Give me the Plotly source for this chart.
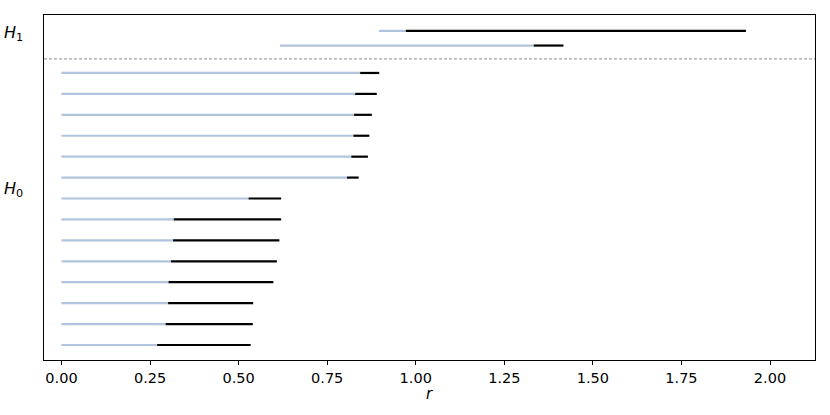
import plotly.graph_objects as go

# barcode values: birth, radius reached so far, death (top bar first)
h0_birth = [0, 0, 0, 0, 0, 0, 0, 0, 0, 0, 0, 0, 0, 0]
h0_mid = [0.843, 0.829, 0.826, 0.824, 0.818, 0.806, 0.528, 0.317, 0.315, 0.309, 0.302, 0.301, 0.294, 0.270]
h0_death = [0.897, 0.890, 0.876, 0.869, 0.865, 0.839, 0.620, 0.620, 0.615, 0.608, 0.598, 0.541, 0.540, 0.534]

h1_birth = [0.896, 0.617]
h1_mid = [0.972, 1.333]
h1_death = [1.932, 1.417]

tick_vals = [0, 0.25, 0.5, 0.75, 1.0, 1.25, 1.5, 1.75, 2.0]

#%%

n0 = len(h0_birth)
h0_y = [n0 - 1 - i for i in range(n0)]
h1_y = [n0 + 0.31 + 0.7 * (len(h1_birth) - 1 - j) for j in range(len(h1_birth))]

def segs(starts, ends, ys):
    xs, yy = [], []
    for a, b, y in zip(starts, ends, ys):
        xs += [a, b, None]
        yy += [y, y, None]
    return xs, yy

bx0, by0 = segs(h0_birth + h1_birth, h0_mid + h1_mid, h0_y + h1_y)
kx0, ky0 = segs(h0_mid + h1_mid, h0_death + h1_death, h0_y + h1_y)

fig = go.Figure()
fig.add_trace(go.Scatter(x=bx0, y=by0, mode="lines",
                         line=dict(color="#b0c4de", width=2.2), hoverinfo="skip"))
fig.add_trace(go.Scatter(x=kx0, y=ky0, mode="lines",
                         line=dict(color="black", width=2.2), hoverinfo="skip"))

fig.add_shape(type="line", xref="paper", x0=0, x1=1, y0=n0 - 0.33, y1=n0 - 0.33,
              line=dict(color="#8c8c8c", width=1, dash="3px,2px"))

fig.add_annotation(text="<i>H</i><sub>1</sub>", xref="paper", x=-0.055, y=14.91,
                   showarrow=False, font=dict(size=16, color="black"))
fig.add_annotation(text="<i>H</i><sub>0</sub>", xref="paper", x=-0.055, y=7.41,
                   showarrow=False, font=dict(size=16, color="black"))
fig.add_annotation(text="<i>r</i>", xref="x", yref="paper", x=1.04, y=-0.098,
                   yanchor="middle", showarrow=False, font=dict(size=15, color="black"))

fig.update_layout(
    width=830, height=415,
    margin=dict(l=44, r=15, t=15, b=55),
    plot_bgcolor="white", paper_bgcolor="white",
    showlegend=False,
    font=dict(family="DejaVu Sans", color="black", size=14.5),
)
fig.update_xaxes(range=[-0.0494, 2.127], tickvals=tick_vals, tickformat=".2f",
                 ticks="outside", ticklen=4, tickcolor="black", showgrid=False,
                 zeroline=False, showline=True, linecolor="black", linewidth=1.2,
                 mirror=True)
fig.update_yaxes(range=[-0.717, 15.77], showticklabels=False, showgrid=False,
                 zeroline=False, showline=True, linecolor="black", linewidth=1.2,
                 mirror=True)

fig.write_html("out.html", config={"displayModeBar": False},
               post_script="document.body.style.margin='0';")
